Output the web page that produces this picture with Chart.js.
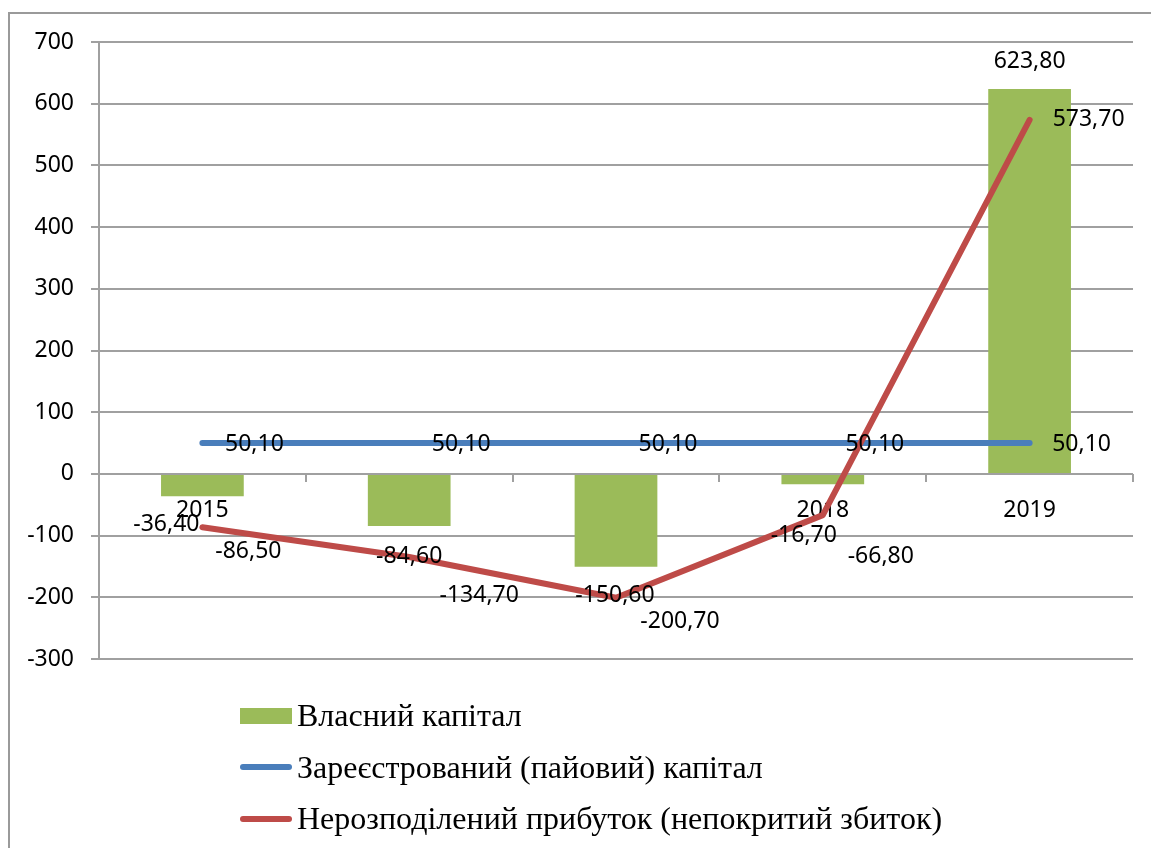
<!DOCTYPE html>
<html>
<head>
<meta charset="utf-8">
<script src="https://cdn.jsdelivr.net/npm/chart.js@4.4.1/dist/chart.umd.min.js"></script>
<style>
html, body { margin: 0; padding: 0; background: #fff; overflow: hidden; width: 1151px; height: 848px; }
.edge { position: absolute; background: #9a9a9a; }
#edgeTop { left: 8px; top: 12px; width: 1143px; height: 2px; }
#edgeLeft { left: 8px; top: 12px; width: 2px; height: 836px; }
#wrap { position: absolute; left: 0; top: 0; width: 1151px; height: 848px; }
#legend { position: absolute; left: 240px; top: 690px; font-family: "Liberation Serif", "Times New Roman", serif; font-size: 32px; color: #000; }
.row { height: 51.5px; display: flex; align-items: center; white-space: nowrap; }
.sw { width: 52px; margin-right: 5px; }
</style>
</head>
<body>
<div class="edge" id="edgeTop"></div>
<div class="edge" id="edgeLeft"></div>
<div id="wrap"><canvas id="chart" width="1151" height="848"></canvas></div>
<div id="legend"></div>
<script>
// Categories and series values
const years = ['2015', '2016', '2017', '2018', '2019'];
const ownCapital = [-36.4, -84.6, -150.6, -16.7, 623.8];
const registeredCapital = [50.1, 50.1, 50.1, 50.1, 50.1];
const retainedProfit = [-86.5, -134.7, -200.7, -66.8, 573.7];

const seriesNames = [
    'Власний капітал',
    'Зареєстрований (пайовий) капітал',
    'Нерозподілений прибуток (непокритий збиток)'
];

// Label offsets from each mark (Excel placed them a bit oddly)
const barLabelShift = [[-36, 28], [0, 30], [-1, 29], [-19, 51], [0, -28]];
const blueLabelShift = [[52, 1], [52, 1], [52, 1], [52, 1], [52, 1]];
const redLabelShift = [[46, 24], [70, 38], [64, 24], [58, 41], [59, 0]];

const GREEN = '#9BBB59';
const BLUE = '#4A7EBB';
const RED = '#BE4B48';
const GRID = '#a0a0a0';
const tickFont = { family: '"Noto Sans", "Open Sans", sans-serif', size: 23 };

function fmt(v) {
    return v.toFixed(2).replace('.', ',');
}

const valueLabels = {
    id: 'valueLabels',
    afterDatasetsDraw(chart) {
        const ctx = chart.ctx;
        const shifts = [barLabelShift, blueLabelShift, redLabelShift];
        ctx.save();
        ctx.font = '23px "Noto Sans", "Open Sans", sans-serif';
        ctx.fillStyle = '#000';
        ctx.textAlign = 'center';
        ctx.textBaseline = 'middle';
        chart.data.datasets.forEach((ds, i) => {
            const meta = chart.getDatasetMeta(i);
            meta.data.forEach((el, j) => {
                const s = shifts[i][j];
                ctx.fillText(fmt(ds.data[j]), el.x + s[0], el.y + s[1]);
            });
        });
        ctx.restore();
    }
};

const chart = new Chart(document.getElementById('chart'), {
    type: 'bar',
    data: {
        labels: years,
        datasets: [
            { type: 'bar', label: seriesNames[0], data: ownCapital, backgroundColor: GREEN, barPercentage: 0.4, categoryPercentage: 1.0, order: 3 },
            { type: 'line', label: seriesNames[1], data: registeredCapital, borderColor: BLUE, backgroundColor: BLUE, borderWidth: 6, borderCapStyle: 'round', borderJoinStyle: 'round', pointRadius: 0, tension: 0, order: 2 },
            { type: 'line', label: seriesNames[2], data: retainedProfit, borderColor: RED, backgroundColor: RED, borderWidth: 6, borderCapStyle: 'round', borderJoinStyle: 'round', pointRadius: 0, tension: 0, order: 1 }
        ]
    },
    options: {
        responsive: false,
        animation: false,
        layout: { padding: { left: 0, right: 18, top: 42, bottom: 189 } },
        plugins: { legend: { display: false }, tooltip: { enabled: false } },
        scales: {
            x: {
                position: { y: 0 },
                afterFit: s => { s.height = 0; },
                grid: { display: true, drawOnChartArea: false, drawTicks: true, tickLength: 8, offset: true, color: GRID, lineWidth: 2 },
                border: { display: false },
                ticks: { padding: 15, font: tickFont, color: '#000', maxRotation: 0 }
            },
            y: {
                min: -300,
                max: 700,
                afterFit: s => { s.width = 99; },
                ticks: { stepSize: 100, padding: 17, font: tickFont, color: '#000' },
                grid: { color: GRID, lineWidth: 2, tickLength: 8 },
                border: { color: GRID, width: 2 }
            }
        }
    },
    plugins: [valueLabels]
});

// Vertical legend under the plot, as in the original
const legend = document.getElementById('legend');
chart.data.datasets.forEach(ds => {
    const row = document.createElement('div');
    row.className = 'row';
    const sw = document.createElement('span');
    sw.className = 'sw';
    if (ds.type === 'bar') {
        sw.style.height = '16px';
        sw.style.background = ds.backgroundColor;
    } else {
        sw.style.height = '6px';
        sw.style.borderRadius = '3px';
        sw.style.background = ds.borderColor;
    }
    const txt = document.createElement('span');
    txt.textContent = ds.label;
    row.appendChild(sw);
    row.appendChild(txt);
    legend.appendChild(row);
});
</script>
</body>
</html>
